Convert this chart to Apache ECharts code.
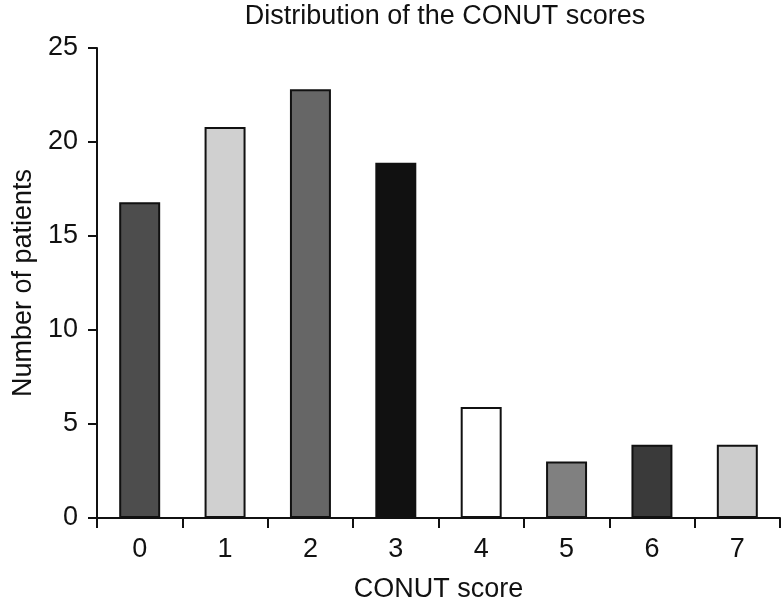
<!DOCTYPE html>
<html>
<head>
<meta charset="utf-8">
<script src="https://cdn.jsdelivr.net/npm/echarts@6/dist/echarts.min.js"></script>
<style>
html,body{margin:0;padding:0;background:#fff;}
#chart{width:782px;height:607px;}
</style>
</head>
<body>
<div id="chart"></div>
<script>
var categories = ['0', '1', '2', '3', '4', '5', '6', '7'];
var patients = [16.8, 20.8, 22.8, 18.9, 5.9, 3, 3.9, 3.9];
var barColors = ['#4d4d4d', '#d0d0d0', '#666666', '#111111', '#ffffff', '#808080', '#3a3a3a', '#cccccc'];
var yTicks = [0, 5, 10, 15, 20, 25];

var font = 'Liberation Sans, Arial, Helvetica, sans-serif';
var chart = echarts.init(document.getElementById('chart'), null, {renderer: 'canvas'});
chart.setOption({
  animation: false,
  backgroundColor: '#ffffff',
  title: {
    text: 'Distribution of the CONUT scores',
    left: 440, top: -2, textAlign: 'center',
    textStyle: {fontFamily: font, fontSize: 27, fontWeight: 'normal', color: '#111'}
  },
  grid: {left: 97, right: 2, top: 48, bottom: 89, containLabel: false, outerBoundsMode: 'none'},
  xAxis: {
    type: 'category',
    data: categories,
    boundaryGap: true,
    name: 'CONUT score',
    nameLocation: 'middle',
    nameGap: 58,
    nameTextStyle: {fontFamily: font, fontSize: 27, color: '#111'},
    axisLine: {lineStyle: {color: '#111', width: 2}},
    axisTick: {show: true, length: 10, lineStyle: {color: '#111', width: 2}},
    axisLabel: {fontFamily: font, fontSize: 27, color: '#111', margin: 18},
    splitLine: {show: false}
  },
  yAxis: {
    type: 'value',
    min: yTicks[0],
    max: yTicks[yTicks.length - 1],
    interval: 5,
    name: 'Number of patients',
    nameLocation: 'middle',
    nameGap: 58,
    nameTextStyle: {fontFamily: font, fontSize: 27, color: '#111'},
    axisLine: {show: true, lineStyle: {color: '#111', width: 2}},
    axisTick: {show: true, length: 9, lineStyle: {color: '#111', width: 2}},
    axisLabel: {fontFamily: font, fontSize: 27, color: '#111', margin: 19},
    splitLine: {show: false}
  },
  series: [{
    type: 'bar',
    barWidth: '48%',
    data: patients.map(function (v, i) {
      return {value: v, itemStyle: {color: barColors[i]}};
    }),
    itemStyle: {borderColor: '#111', borderWidth: 2}
  }]
});
</script>
</body>
</html>
